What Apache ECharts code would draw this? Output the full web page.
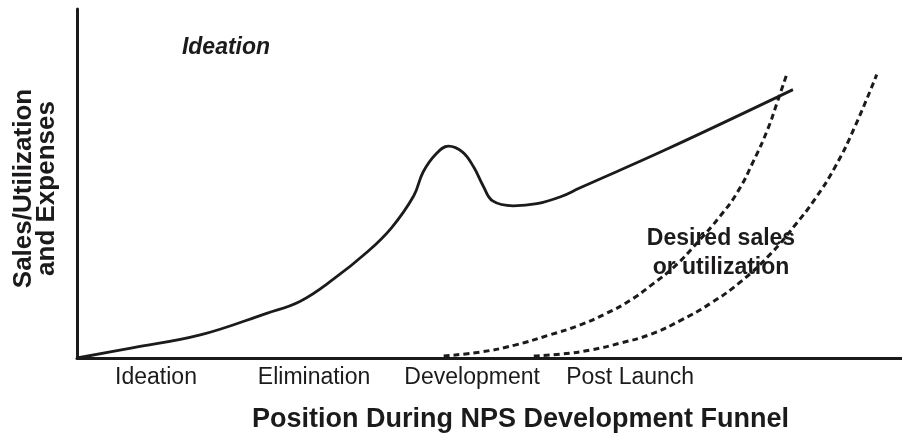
<!DOCTYPE html>
<html>
<head>
<meta charset="utf-8">
<script src="https://cdn.jsdelivr.net/npm/echarts@6/dist/echarts.min.js"></script>
<style>
    html, body { margin: 0; padding: 0; background: #fff; }
    #chart { width: 902px; height: 438px; }
</style>
</head>
<body>
<div id="chart"></div>
<script>
var chart = echarts.init(document.getElementById('chart'));

// funnel phases, one unit wide each, label sits in the middle
var phases = ['Ideation', 'Elimination', 'Development', 'Post Launch'];
var phaseCenters = [0.5, 1.5, 2.5, 3.5];

// sales / utilization and expenses curve
var expenseX = [0, 0.35, 0.78, 1.2, 1.41, 1.62, 1.84, 1.99, 2.13, 2.19, 2.27, 2.35, 2.44, 2.51, 2.57, 2.63, 2.76, 2.91, 3.06, 3.18, 3.73, 4.53];
var expenseY = [0, 2.9, 6.6, 12.8, 16.2, 22.5, 30.5, 37.3, 46.4, 53.3, 58.4, 60.7, 59.0, 54.7, 49.3, 45.0, 43.6, 44.2, 46.2, 48.7, 59.8, 76.9];

// desired sales or utilization (two dashed curves)
var desired1X = [2.32, 2.55, 2.77, 2.99, 3.18, 3.35, 3.5, 3.64, 3.78, 3.92, 4.07, 4.18, 4.28, 4.37, 4.43, 4.49];
var desired1Y = [0.6, 1.7, 3.7, 6.6, 9.4, 12.8, 16.5, 21.1, 26.2, 32.8, 40.7, 47.6, 56.4, 65.5, 73.2, 81.2];
var desired2X = [2.89, 3.06, 3.25, 3.44, 3.63, 3.82, 4.01, 4.2, 4.39, 4.54, 4.67, 4.8, 4.92, 5.06];
var desired2Y = [0.6, 1.1, 2.3, 4.3, 6.8, 10.8, 15.7, 21.9, 29.9, 37.9, 45.6, 55.0, 66.1, 81.2];

var phaseNote = 'Ideation';
var desiredNote = 'Desired sales\nor utilization';

var zip = function (xs, ys) {
    var res = [];
    for (var i = 0; i < xs.length; i++) {
        res.push([xs[i], ys[i]]);
    }
    return res;
};

var ink = '#1c1a1b';
var font = '"Liberation Sans", Arial, sans-serif';

var option = {
    animation: false,
    backgroundColor: '#fff',
    grid: {
        left: 77,
        right: 0,
        top: 9,
        bottom: 78
    },
    xAxis: {
        type: 'value',
        min: 0,
        max: 5.22,
        name: 'Position During NPS Development Funnel',
        nameLocation: 'middle',
        nameGap: 48,
        nameTextStyle: {
            color: ink,
            fontFamily: font,
            fontSize: 27,
            fontWeight: 'bold',
            padding: [0, 0, 0, 62]
        },
        axisLine: {
            show: true,
            lineStyle: { color: ink, width: 3 }
        },
        axisTick: { show: false },
        splitLine: { show: false },
        axisLabel: {
            customValues: phaseCenters,
            margin: 8,
            color: ink,
            fontFamily: font,
            fontSize: 23,
            formatter: function (v) {
                var i = phaseCenters.indexOf(v);
                return i >= 0 ? phases[i] : '';
            }
        }
    },
    yAxis: {
        type: 'value',
        min: 0,
        max: 100,
        name: 'Sales/Utilization\nand Expenses',
        nameLocation: 'middle',
        nameGap: 19,
        nameTextStyle: {
            color: ink,
            fontFamily: font,
            fontSize: 26,
            fontWeight: 'bold',
            lineHeight: 23,
            padding: [0, 10, 0, 0]
        },
        axisLine: {
            show: true,
            lineStyle: { color: ink, width: 3 }
        },
        axisTick: { show: false },
        axisLabel: { show: false },
        splitLine: { show: false }
    },
    graphic: [
        {
            type: 'text',
            x: 226,
            y: 48,
            style: {
                text: phaseNote,
                font: 'italic bold 23px ' + font,
                fill: ink,
                textAlign: 'center',
                textVerticalAlign: 'middle'
            }
        },
        {
            type: 'text',
            x: 721,
            y: 253,
            z: 10,
            style: {
                text: desiredNote,
                font: 'bold 23px ' + font,
                lineHeight: 29,
                fill: ink,
                textAlign: 'center',
                textVerticalAlign: 'middle'
            }
        }
    ],
    series: [
        {
            name: 'Expenses',
            type: 'line',
            data: zip(expenseX, expenseY),
            smooth: 0.4,
            symbol: 'none',
            lineStyle: { color: ink, width: 2.8 }
        },
        {
            name: 'Desired 1',
            type: 'line',
            data: zip(desired1X, desired1Y),
            smooth: 0.5,
            symbol: 'none',
            lineStyle: { color: ink, width: 3, type: [6, 4] }
        },
        {
            name: 'Desired 2',
            type: 'line',
            data: zip(desired2X, desired2Y),
            smooth: 0.5,
            symbol: 'none',
            lineStyle: { color: ink, width: 3, type: [6, 4] }
        }
    ]
};
chart.setOption(option);
</script>
</body>
</html>
